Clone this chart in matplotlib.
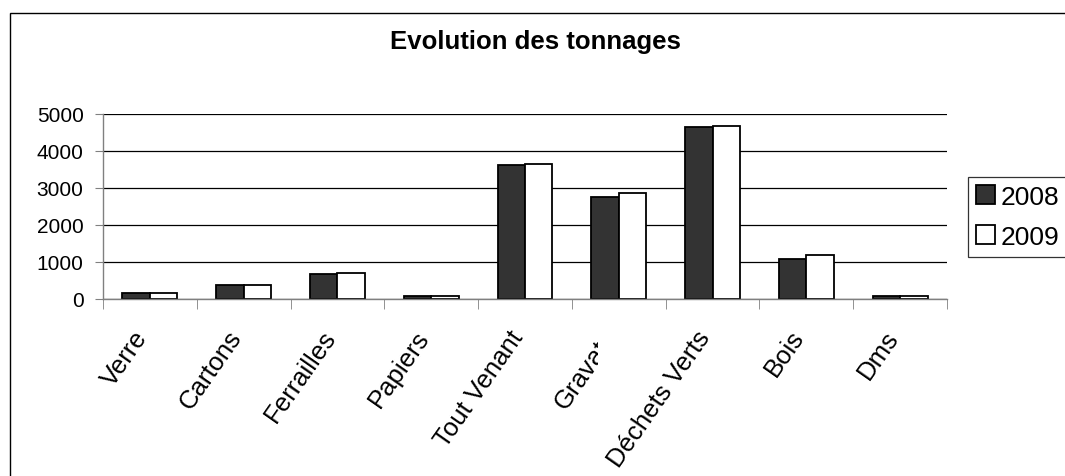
import matplotlib
matplotlib.use("Agg")
import matplotlib.pyplot as plt
import numpy as np
from matplotlib.patches import Rectangle
from matplotlib.transforms import Bbox, TransformedBbox, IdentityTransform, ScaledTranslation

plt.rcParams['font.family'] = ['Liberation Sans', 'DejaVu Sans']

categories = ["Verre", "Cartons", "Ferrailles", "Papiers", "Tout Venant",
              "Gravats", "Déchets Verts", "Bois", "Dms"]
series_2008 = [150, 380, 670, 90, 3630, 2750, 4650, 1080, 80]
series_2009 = [150, 390, 700, 90, 3660, 2860, 4685, 1180, 80]
series_names = ["2008", "2009"]
yticks = [0, 1000, 2000, 3000, 4000, 5000]
title = "Evolution des tonnages"

W, H = 1065, 477
fig = plt.figure(figsize=(W / 100, H / 100), dpi=100)
fig.patch.set_facecolor("white")

# outer chart-area border (extends past the crop on right/bottom)
fig.patches.append(Rectangle((10 / W, -0.5), 2.0, (1 - 14 / H) + 0.5,
                             transform=fig.transFigure, fill=False,
                             edgecolor="black", linewidth=1.0, zorder=0))

ax = fig.add_axes([103 / W, 1 - 300 / H, (947 - 103) / W, (300 - 115) / H])

x = np.arange(len(categories))
bw = 0.293
ax.bar(x - bw / 2, series_2008, width=bw, color="#333333", edgecolor="black",
       linewidth=1.3, label=series_names[0], zorder=3)
ax.bar(x + bw / 2, series_2009, width=bw, color="white", edgecolor="black",
       linewidth=1.3, label=series_names[1], zorder=3)

ax.set_xlim(-0.5, len(categories) - 0.5)
ax.set_ylim(0, 5000)
ax.set_yticks(yticks)
ax.set_yticklabels([str(v) for v in yticks], fontsize=15)
ax.yaxis.grid(True, color="black", linewidth=0.9, zorder=0)
ax.set_axisbelow(True)

for s in ["top", "right"]:
    ax.spines[s].set_visible(False)
for s in ["left", "bottom"]:
    ax.spines[s].set_color("#808080")
    ax.spines[s].set_linewidth(1.0)
ax.spines["left"].set_zorder(4)
ax.spines["bottom"].set_zorder(4)

ax.tick_params(axis="y", length=6, color="#808080", pad=8)
ax.set_xticks(x)
ax.set_xticklabels(categories, rotation=55, ha="right", va="center",
                   rotation_mode="anchor", fontsize=18.5)
ax.tick_params(axis="x", which="major", length=0, pad=24)
ax.set_xticks(np.arange(len(categories) + 1) - 0.5, minor=True)
ax.tick_params(axis="x", which="minor", length=7, color="#808080", direction="out")
shift = ScaledTranslation(-7 / 100, 0, fig.dpi_scale_trans)
for lab in ax.get_xticklabels():
    lab.set_transform(lab.get_transform() + shift)

fig.text(535 / W, 1 - 42 / H, title, ha="center", va="center",
         fontsize=18.5, fontweight="bold")

leg = ax.legend(loc="upper left", bbox_to_anchor=(968 / W, 1 - 178 / H),
                bbox_transform=fig.transFigure, fontsize=19, frameon=True,
                fancybox=False, borderpad=0.3, handlelength=0.72,
                handleheight=0.7, handletextpad=0.2, labelspacing=0.6,
                borderaxespad=0)
leg.get_frame().set_edgecolor("black")
leg.get_frame().set_linewidth(0.9)

# clip the "Gravats" label where the "Déchets Verts" label box starts
fig.canvas.draw()
labels = ax.get_xticklabels()
renderer = fig.canvas.get_renderer()
dv_ext = labels[6].get_window_extent(renderer)
clip = TransformedBbox(Bbox([[0, 0], [dv_ext.x0 - 6, H]]), IdentityTransform())
labels[5].set_clip_on(True)
labels[5].set_clip_box(clip)

fig.savefig("out.png", dpi=100)
